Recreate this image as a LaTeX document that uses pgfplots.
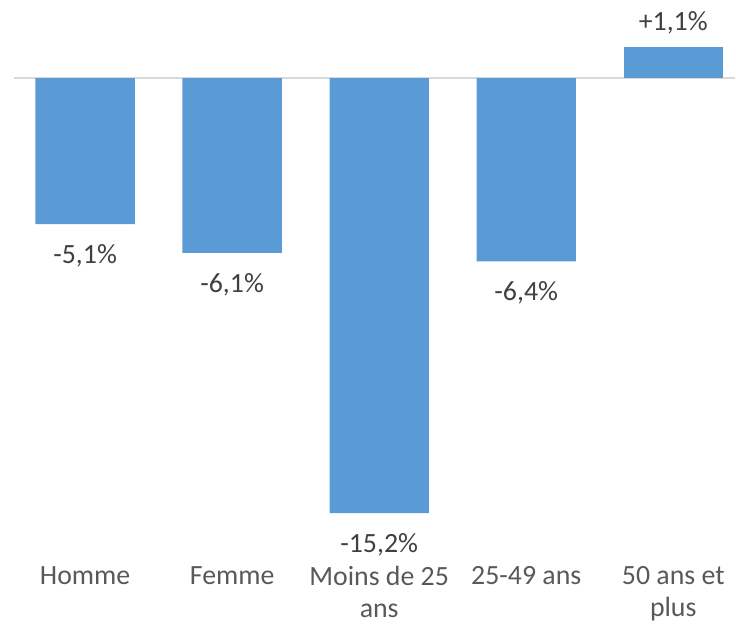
\documentclass[border=0pt]{standalone}
\usepackage{pgfplots}
\pgfplotsset{compat=1.18}
\usepackage{fontspec}
\setmainfont{Carlito}
\definecolor{barblue}{HTML}{5B9BD5}
\definecolor{zeroline}{HTML}{D9D9D9}
\definecolor{ticktext}{HTML}{595959}
\definecolor{labeltext}{HTML}{404040}

\begin{document}
\begin{tikzpicture}
\begin{axis}[
  scale only axis,
  width=363pt, height=277.5pt,
  xmin=-0.486, xmax=4.42,
  ymin=-16.67, ymax=2.6,
  axis line style={draw=none},
  major tick length=0pt,
  ytick=\empty,
  xtick={0,1,2,3,4},
  xticklabels={Homme, Femme, Moins de 25\\ans, 25-49 ans, 50 ans et\\plus},
  xticklabel style={font=\fontsize{14}{16}\selectfont, text=ticktext, align=center, anchor=north, yshift=-2pt},
  extra y ticks={0},
  extra y tick labels={},
  extra y tick style={grid=major, grid style={draw=zeroline, line width=1pt}},
  ybar, bar width=50pt, bar shift=0pt,
  nodes near coords,
  point meta=explicit symbolic,
  every node near coord/.append style={font=\fontsize{14}{16}\selectfont, text=labeltext, inner sep=6pt},
  clip=false,
]
% negative values: label below the bar end
\addplot[fill=barblue, draw=none,
  every node near coord/.append style={anchor=north, yshift=-4pt}] coordinates {
  (0,-5.1) [-5,1\%]
  (1,-6.1) [-6,1\%]
  (2,-15.2) [-15,2\%]
  (3,-6.4) [-6,4\%]
};
% positive value: label above
\addplot[fill=barblue, draw=none,
  every node near coord/.append style={anchor=south}] coordinates {
  (4,1.1) [+1,1\%]
};
\end{axis}
\path (current axis.west) ++(-5pt,0) coordinate (padl);
\end{tikzpicture}
\end{document}
